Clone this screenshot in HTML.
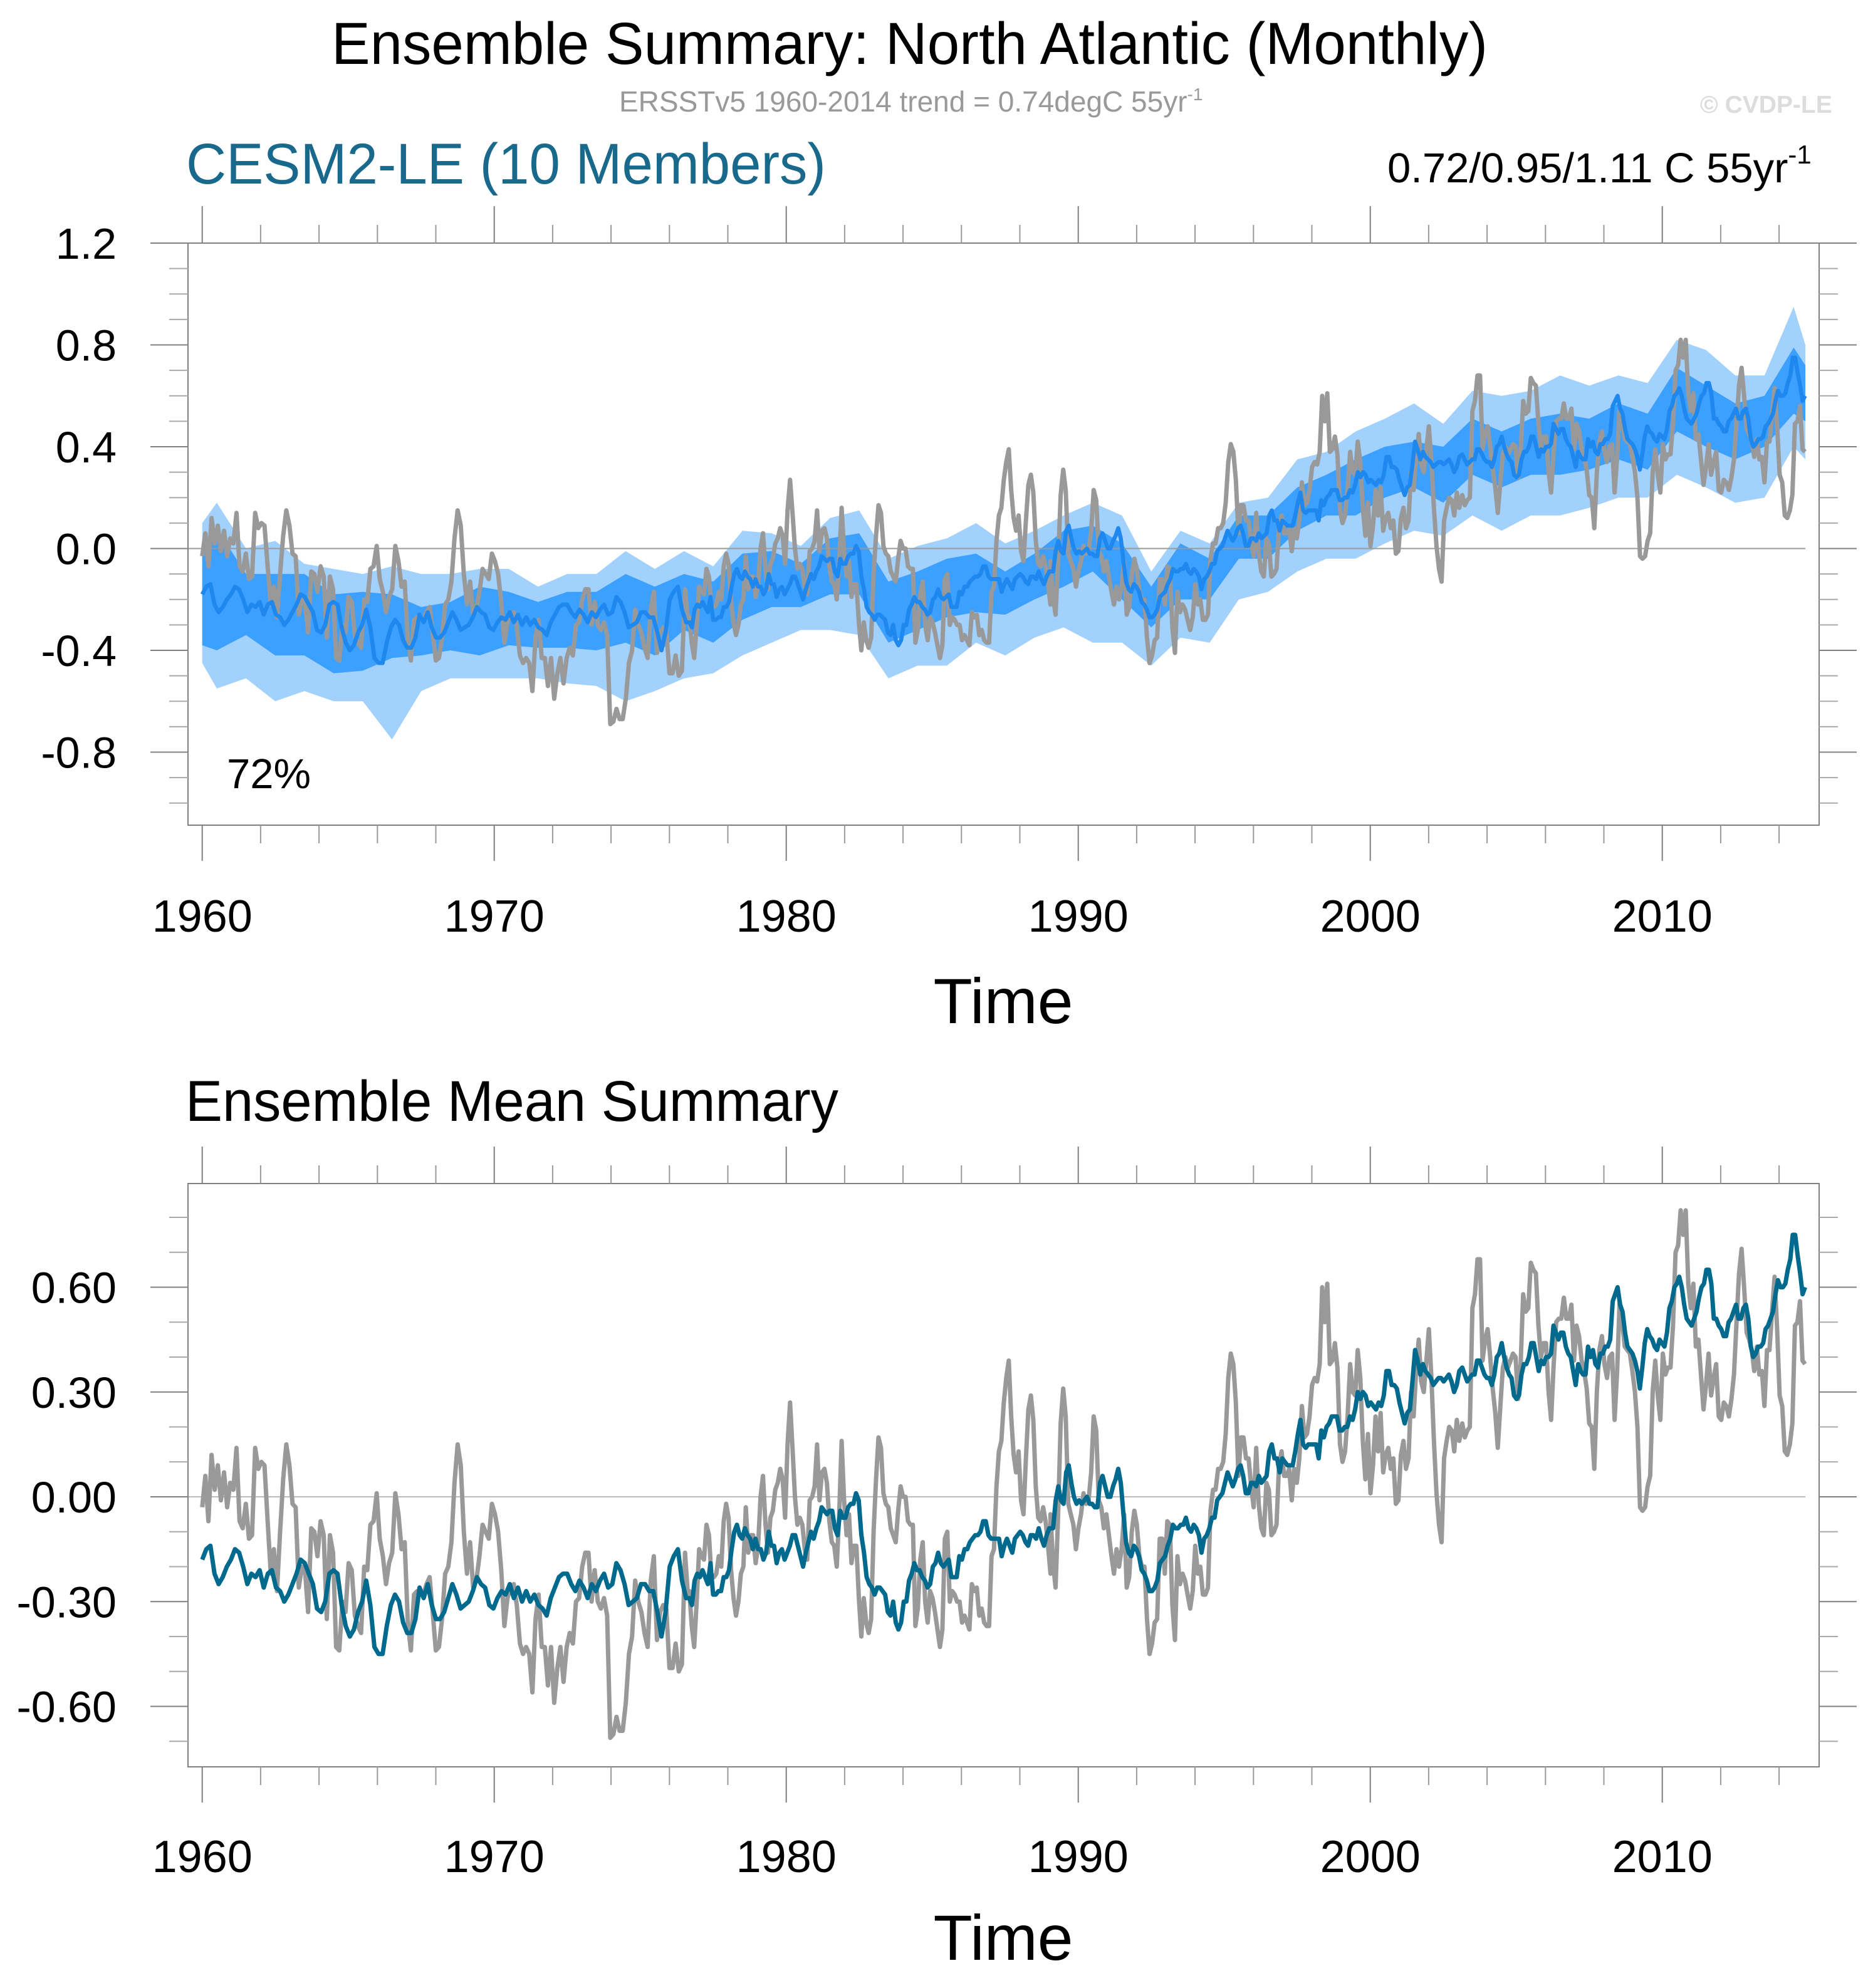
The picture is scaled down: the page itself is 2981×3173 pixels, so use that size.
<!DOCTYPE html>
<html><head><meta charset="utf-8"><title>Ensemble Summary: North Atlantic (Monthly)</title>
<style>html,body{margin:0;padding:0;background:#fff}svg{display:block}text{font-family:"Liberation Sans",Arial,sans-serif}</style>
</head><body>
<svg id="chart" xmlns="http://www.w3.org/2000/svg" width="2981" height="3173" viewBox="0 0 2981 3173">
<rect x="0" y="0" width="2981" height="3173" fill="#fff"/>
<text x="529" y="102" font-size="95" textLength="1845" lengthAdjust="spacingAndGlyphs">Ensemble Summary: North Atlantic (Monthly)</text>
<text x="988" y="178" font-size="46" fill="#999">ERSSTv5 1960-2014 trend = 0.74degC 55yr<tspan font-size="28" dy="-18">-1</tspan></text>
<text x="2713" y="180" font-size="39" font-weight="bold" fill="#dcdcdc">© CVDP-LE</text>
<text x="297" y="293" font-size="92" fill="#19698c" textLength="1021" lengthAdjust="spacingAndGlyphs">CESM2-LE (10 Members)</text>
<text x="2214" y="291" font-size="67">0.72/0.95/1.11 C 55yr<tspan font-size="42" dy="-30">-1</tspan></text>
<text x="296" y="1789" font-size="92" textLength="1042" lengthAdjust="spacingAndGlyphs">Ensemble Mean Summary</text>
<g id="top"></g>
<g id="bot"></g>
<text x="1601" y="1633" font-size="102" text-anchor="middle">Time</text>
<text x="1601" y="3128" font-size="102" text-anchor="middle">Time</text>
<text x="362" y="1258" font-size="67">72%</text>
</svg>
<script>
const xTickYears=[1960,1970,1980,1990,2000,2010];
const xMinorYears=[1962,1964,1966,1968,1972,1974,1976,1978,1982,1984,1986,1988,1992,1994,1996,1998,2002,2004,2006,2008,2012,2014];
const topYTicks=[1.2,0.8,0.4,0.0,-0.4,-0.8];
const topYTickLabels=["1.2","0.8","0.4","0.0","-0.4","-0.8"];
const topYMinor=[1.1,1.0,0.9,0.7,0.6,0.5,0.3,0.2,0.1,-0.1,-0.2,-0.3,-0.5,-0.6,-0.7,-0.9,-1.0];
const botYTicks=[0.6,0.3,0.0,-0.3,-0.6];
const botYTickLabels=["0.60","0.30","0.00","-0.30","-0.60"];
const botYMinor=[0.8,0.7,0.5,0.4,0.2,0.1,-0.1,-0.2,-0.4,-0.5,-0.7];
const obsSegYears=[[1960.0,1976.64],[1976.68,1989.05],[1989.05,2003.05],[2003.15,2014.89]];
const obsA=[-0.03,0.06,-0.07,0.12,0.02,0.09,-0.01,0.07,-0.03,0.04,0.02,0.14,-0.07,-0.09,-0.02,-0.12,-0.11,0.14,0.08,0.10,0.09,-0.07,-0.22,-0.15,-0.27,-0.10,0.05,0.15,0.09,-0.02,-0.03,-0.26,-0.20,-0.21,-0.33,-0.09,-0.10,-0.17,-0.07,-0.11,-0.35,-0.11,-0.16,-0.43,-0.44,-0.30,-0.33,-0.19,-0.21,-0.34,-0.37,-0.39,-0.20,-0.21,-0.08,-0.07,0.01,-0.12,-0.17,-0.25,-0.19,-0.16,0.01,-0.05,-0.15,-0.13,-0.36,-0.44,-0.28,-0.27,-0.28,-0.28,-0.25,-0.23,-0.33,-0.44,-0.43,-0.35,-0.22,-0.20,-0.13,0.04,0.15,0.09,-0.10,-0.22,-0.13,-0.26,-0.24,-0.17,-0.08,-0.10,-0.12,-0.02,-0.05,-0.10,-0.21,-0.37,-0.29,-0.26,-0.25,-0.31,-0.42,-0.45,-0.43,-0.45,-0.56,-0.35,-0.28,-0.43,-0.43,-0.54,-0.43,-0.59,-0.49,-0.43,-0.53,-0.43,-0.39,-0.42,-0.30,-0.29,-0.20,-0.16,-0.16,-0.30,-0.21,-0.30,-0.32,-0.29,-0.34,-0.69,-0.68,-0.63,-0.67,-0.67,-0.59,-0.45,-0.40,-0.24,-0.30,-0.33,-0.39,-0.43,-0.24,-0.17,-0.41,-0.33,-0.31,-0.32,-0.49,-0.49,-0.42,-0.50,-0.48,-0.16,-0.29];
const obsB=[-0.27,-0.37,-0.43,-0.30,-0.15,-0.17,-0.18,-0.08,-0.11,-0.23,-0.23,-0.22,-0.17,-0.20,-0.07,-0.02,-0.06,-0.21,-0.29,-0.34,-0.30,-0.22,-0.20,-0.03,-0.16,-0.11,-0.11,-0.19,-0.14,0.00,0.06,-0.08,-0.16,-0.06,-0.04,0.02,0.04,0.08,0.05,-0.06,0.15,0.27,0.14,0.00,-0.08,-0.06,-0.08,-0.15,-0.18,-0.01,0.00,0.03,0.15,-0.01,0.07,0.08,0.04,-0.07,-0.13,-0.14,-0.20,-0.05,0.16,-0.01,-0.11,-0.05,-0.19,-0.14,-0.14,-0.29,-0.40,-0.29,-0.36,-0.39,-0.35,-0.10,0.05,0.17,0.14,0.01,-0.02,-0.03,-0.09,-0.11,-0.13,-0.04,0.03,0.00,0.00,-0.07,-0.08,-0.08,-0.37,-0.32,-0.18,-0.13,-0.30,-0.36,-0.27,-0.29,-0.33,-0.38,-0.43,-0.38,-0.12,-0.10,-0.30,-0.27,-0.28,-0.30,-0.30,-0.36,-0.34,-0.36,-0.38,-0.25,-0.27,-0.26,-0.34,-0.32,-0.36,-0.37,-0.37,-0.17,-0.15,0.03,0.13,0.16,0.27,0.34,0.39,0.23,0.12,0.07,0.13,-0.01,-0.05,0.11,0.25,0.29,0.22,0.03,-0.06,-0.07,-0.03,-0.07,-0.14,-0.22];
const obsC=[-0.05,-0.19,-0.26,-0.05,0.21,0.31,0.23,-0.02,-0.05,-0.08,-0.15,-0.09,-0.05,0.01,-0.02,-0.01,0.07,0.23,0.19,-0.01,-0.03,-0.09,-0.05,-0.11,-0.17,-0.22,-0.15,-0.20,-0.15,-0.05,-0.26,-0.23,-0.10,-0.04,-0.08,-0.17,-0.20,-0.20,-0.35,-0.45,-0.42,-0.36,-0.35,-0.12,-0.12,-0.22,-0.07,-0.08,-0.31,-0.41,-0.17,-0.25,-0.22,-0.24,-0.28,-0.32,-0.27,-0.14,-0.22,-0.20,-0.28,-0.28,-0.26,-0.04,0.02,0.02,0.08,0.08,0.10,0.18,0.34,0.41,0.38,0.27,0.06,0.17,0.17,0.11,0.11,0.03,-0.03,0.14,-0.02,-0.09,-0.11,0.04,0.02,-0.11,-0.10,-0.08,0.09,0.13,0.06,0.06,0.08,-0.01,0.08,0.04,0.11,0.26,0.17,0.18,0.23,0.32,0.34,0.33,0.38,0.60,0.50,0.61,0.38,0.39,0.44,0.37,0.15,0.10,0.13,0.23,0.38,0.30,0.29,0.42,0.34,0.16,0.05,0.18,0.01,0.09,0.23,0.13,0.24,0.07,0.12,0.14,0.08,0.11,-0.02,-0.01,0.12,0.16,0.08,0.11,0.30,0.23,0.36,0.45,0.33,0.30,0.39,0.48,0.34,0.16,0.01,-0.08,-0.13,0.11,0.16,0.20,0.19,0.13,0.22,0.16];
const obsD=[0.21,0.17,0.19,0.20,0.54,0.58,0.68,0.68,0.39,0.45,0.48,0.40,0.31,0.24,0.14,0.26,0.37,0.40,0.37,0.39,0.41,0.40,0.28,0.38,0.58,0.53,0.54,0.67,0.65,0.64,0.49,0.40,0.44,0.44,0.30,0.22,0.38,0.50,0.51,0.51,0.57,0.51,0.51,0.55,0.39,0.49,0.46,0.39,0.36,0.31,0.21,0.20,0.08,0.30,0.42,0.46,0.38,0.34,0.40,0.41,0.22,0.36,0.56,0.50,0.43,0.42,0.41,0.36,0.30,0.20,-0.03,-0.04,-0.03,0.03,0.06,0.30,0.39,0.29,0.22,0.41,0.35,0.37,0.37,0.49,0.70,0.72,0.82,0.75,0.82,0.61,0.54,0.61,0.43,0.45,0.35,0.25,0.32,0.41,0.29,0.34,0.38,0.23,0.22,0.27,0.26,0.23,0.28,0.35,0.50,0.64,0.71,0.60,0.47,0.45,0.42,0.36,0.43,0.35,0.36,0.26,0.42,0.42,0.53,0.63,0.48,0.29,0.26,0.13,0.12,0.15,0.21,0.49,0.50,0.56,0.39,0.38];
const meanSegYears=[[1960.0,1976.57],[1976.68,1989.10],[1989.05,2003.05],[2003.15,2014.89]];
const meanA=[-0.18,-0.15,-0.14,-0.22,-0.25,-0.23,-0.20,-0.18,-0.15,-0.16,-0.20,-0.25,-0.22,-0.23,-0.21,-0.26,-0.22,-0.21,-0.26,-0.27,-0.30,-0.28,-0.25,-0.22,-0.18,-0.19,-0.22,-0.25,-0.32,-0.33,-0.30,-0.22,-0.21,-0.22,-0.31,-0.37,-0.40,-0.38,-0.33,-0.30,-0.24,-0.31,-0.43,-0.45,-0.45,-0.37,-0.31,-0.28,-0.30,-0.36,-0.39,-0.39,-0.35,-0.26,-0.29,-0.25,-0.31,-0.35,-0.35,-0.33,-0.29,-0.25,-0.28,-0.32,-0.31,-0.30,-0.27,-0.23,-0.25,-0.26,-0.31,-0.32,-0.29,-0.27,-0.28,-0.25,-0.29,-0.26,-0.30,-0.27,-0.30,-0.28,-0.31,-0.32,-0.34,-0.29,-0.26,-0.23,-0.22,-0.22,-0.25,-0.27,-0.24,-0.26,-0.29,-0.25,-0.27,-0.24,-0.22,-0.26,-0.25,-0.19,-0.21,-0.25,-0.31,-0.30,-0.29,-0.25,-0.25,-0.27,-0.27,-0.33,-0.40,-0.33,-0.20,-0.17,-0.15,-0.24,-0.29];
const meanB=[-0.29,-0.31,-0.24,-0.22,-0.23,-0.21,-0.23,-0.25,-0.19,-0.28,-0.28,-0.27,-0.27,-0.23,-0.23,-0.21,-0.15,-0.10,-0.08,-0.11,-0.12,-0.09,-0.11,-0.12,-0.15,-0.12,-0.15,-0.15,-0.18,-0.16,-0.10,-0.14,-0.14,-0.19,-0.16,-0.15,-0.18,-0.16,-0.14,-0.11,-0.11,-0.14,-0.17,-0.20,-0.16,-0.13,-0.10,-0.12,-0.09,-0.07,-0.03,-0.04,-0.05,-0.04,-0.04,-0.09,-0.11,-0.04,-0.06,-0.06,-0.03,-0.02,-0.02,0.01,-0.01,-0.11,-0.16,-0.23,-0.25,-0.26,-0.28,-0.26,-0.26,-0.27,-0.28,-0.33,-0.34,-0.30,-0.36,-0.38,-0.36,-0.30,-0.30,-0.24,-0.22,-0.19,-0.21,-0.21,-0.23,-0.24,-0.26,-0.25,-0.20,-0.19,-0.16,-0.19,-0.20,-0.19,-0.18,-0.23,-0.23,-0.23,-0.17,-0.18,-0.15,-0.15,-0.13,-0.12,-0.11,-0.11,-0.10,-0.07,-0.07,-0.11,-0.12,-0.12,-0.12,-0.12,-0.17,-0.14,-0.12,-0.14,-0.16,-0.12,-0.11,-0.10,-0.11,-0.13,-0.14,-0.11,-0.11,-0.12,-0.09,-0.12,-0.14,-0.11,-0.09,-0.09];
const meanC=[-0.09,-0.09,-0.01,0.03,-0.01,-0.02,0.07,0.09,0.04,0.00,-0.02,-0.01,-0.02,-0.01,0.00,-0.02,-0.02,-0.03,-0.03,0.04,0.06,0.03,0.00,0.00,0.03,0.05,0.08,0.04,-0.05,-0.13,-0.16,-0.17,-0.14,-0.15,-0.17,-0.21,-0.22,-0.24,-0.27,-0.27,-0.26,-0.24,-0.19,-0.18,-0.17,-0.14,-0.12,-0.08,-0.09,-0.09,-0.08,-0.08,-0.06,-0.09,-0.10,-0.08,-0.09,-0.11,-0.16,-0.12,-0.11,-0.09,-0.06,-0.06,-0.01,0.00,0.01,0.04,0.07,0.05,0.03,0.05,0.08,0.09,0.06,0.01,0.01,0.04,0.04,0.03,0.06,0.04,0.05,0.06,0.13,0.15,0.11,0.11,0.07,0.11,0.10,0.09,0.09,0.09,0.13,0.18,0.22,0.15,0.14,0.15,0.15,0.15,0.15,0.11,0.19,0.17,0.20,0.21,0.23,0.23,0.23,0.19,0.19,0.20,0.20,0.23,0.22,0.25,0.30,0.28,0.30,0.29,0.26,0.27,0.26,0.25,0.27,0.26,0.29,0.36,0.36,0.32,0.32,0.31,0.27,0.24,0.21,0.24,0.25,0.33,0.42,0.39,0.35,0.38,0.36,0.35,0.34,0.32,0.33,0.34,0.34,0.33,0.34,0.35,0.33,0.30,0.32,0.36];
const meanD=[0.37,0.35,0.33,0.34,0.35,0.35,0.39,0.39,0.37,0.35,0.34,0.34,0.32,0.35,0.40,0.41,0.44,0.40,0.37,0.35,0.34,0.29,0.28,0.29,0.35,0.38,0.38,0.40,0.44,0.44,0.40,0.36,0.39,0.38,0.40,0.40,0.41,0.49,0.47,0.45,0.47,0.47,0.43,0.41,0.40,0.36,0.32,0.38,0.36,0.35,0.35,0.43,0.40,0.42,0.38,0.37,0.41,0.41,0.43,0.43,0.45,0.56,0.58,0.60,0.55,0.53,0.47,0.43,0.42,0.41,0.39,0.36,0.31,0.37,0.44,0.48,0.46,0.45,0.43,0.42,0.45,0.44,0.43,0.47,0.54,0.56,0.60,0.61,0.63,0.60,0.55,0.51,0.50,0.49,0.51,0.53,0.57,0.60,0.61,0.65,0.65,0.61,0.51,0.51,0.49,0.48,0.46,0.46,0.50,0.51,0.53,0.55,0.51,0.51,0.54,0.55,0.51,0.43,0.40,0.41,0.43,0.43,0.44,0.48,0.49,0.51,0.53,0.58,0.62,0.60,0.60,0.61,0.65,0.68,0.75,0.75,0.69,0.64,0.58,0.60];
const bandYears=[1960.0,1960.5,1961.5,1962.5,1963.5,1964.5,1965.5,1966.5,1967.5,1968.5,1969.5,1970.5,1971.5,1972.5,1973.5,1974.5,1975.5,1976.5,1977.5,1978.5,1979.5,1980.5,1981.5,1982.5,1983.5,1984.5,1985.5,1986.5,1987.5,1988.5,1989.5,1990.5,1991.5,1992.5,1993.5,1994.5,1995.5,1996.5,1997.5,1998.5,1999.5,2000.5,2001.5,2002.5,2003.5,2004.5,2005.5,2006.5,2007.5,2008.5,2009.5,2010.5,2011.5,2012.5,2013.5,2014.5,2014.9];
const lightHi=[0.10,0.18,0.00,0.03,-0.06,-0.08,-0.10,-0.07,-0.10,-0.10,-0.08,-0.08,-0.15,-0.10,-0.10,-0.01,-0.08,-0.01,-0.07,0.07,0.06,0.01,0.12,0.15,-0.04,0.01,0.04,0.10,0.02,0.07,0.13,0.18,0.13,-0.09,0.07,0.02,0.18,0.20,0.35,0.38,0.46,0.51,0.57,0.49,0.62,0.60,0.62,0.68,0.64,0.68,0.65,0.82,0.78,0.68,0.68,0.95,0.80];
const darkHi=[0.00,0.08,-0.10,-0.10,-0.10,-0.18,-0.17,-0.18,-0.23,-0.21,-0.15,-0.17,-0.21,-0.17,-0.17,-0.10,-0.15,-0.10,-0.13,-0.02,-0.01,-0.06,0.04,0.06,-0.13,-0.09,-0.04,-0.02,-0.09,-0.02,0.07,0.09,0.02,-0.15,0.02,-0.04,0.13,0.13,0.24,0.29,0.35,0.40,0.42,0.40,0.51,0.46,0.51,0.53,0.51,0.57,0.53,0.71,0.64,0.57,0.60,0.79,0.72];
const darkLo=[-0.38,-0.40,-0.34,-0.42,-0.42,-0.49,-0.48,-0.43,-0.42,-0.40,-0.42,-0.38,-0.39,-0.39,-0.40,-0.37,-0.42,-0.32,-0.37,-0.28,-0.23,-0.23,-0.18,-0.18,-0.37,-0.32,-0.27,-0.25,-0.26,-0.20,-0.15,-0.09,-0.20,-0.31,-0.20,-0.20,-0.04,-0.04,0.07,0.13,0.13,0.20,0.24,0.18,0.29,0.24,0.29,0.29,0.31,0.35,0.31,0.46,0.40,0.35,0.40,0.53,0.50];
const lightLo=[-0.45,-0.55,-0.51,-0.60,-0.56,-0.60,-0.60,-0.75,-0.56,-0.51,-0.51,-0.51,-0.51,-0.53,-0.54,-0.60,-0.56,-0.51,-0.49,-0.42,-0.37,-0.32,-0.32,-0.34,-0.51,-0.46,-0.46,-0.37,-0.42,-0.35,-0.31,-0.37,-0.37,-0.46,-0.35,-0.37,-0.20,-0.17,-0.09,-0.04,-0.04,0.02,0.07,0.05,0.13,0.07,0.13,0.13,0.16,0.20,0.20,0.29,0.24,0.18,0.20,0.40,0.35];

const NS='http://www.w3.org/2000/svg';
const FL=300,FR=2903;
const xS=yr=>322.7+(yr-1960)*46.6;
const P={top:{g:document.getElementById('top'),t:388,b:1317,z:875.5,k:406.25,lab:1487},
         bot:{g:document.getElementById('bot'),t:1889,b:2820,z:2389,k:557.5,lab:2988}};
const yS=(p,v)=>p.z-v*p.k;
function mk(tag,parent,attrs){const e=document.createElementNS(NS,tag);for(const k in attrs)e.setAttribute(k,attrs[k]);parent.appendChild(e);return e;}
function series(segYears,segs){const pts=[];segs.forEach((s,i)=>{const a=segYears[i][0],b=segYears[i][1];s.forEach((v,j)=>pts.push([a+(b-a)*j/(s.length-1),v]));});return pts;}
const obsPts=series(obsSegYears,[obsA,obsB,obsC,obsD]);
const meanPts=series(meanSegYears,[meanA,meanB,meanC,meanD]);
function pathD(p,pts){return pts.map((q,i)=>(i?'L':'M')+xS(q[0]).toFixed(1)+','+yS(p,q[1]).toFixed(1)).join('');}
function bandD(p,hi,lo){let d='';bandYears.forEach((yr,i)=>{d+=(i?'L':'M')+xS(yr).toFixed(1)+','+yS(p,hi[i]).toFixed(1);});for(let i=bandYears.length-1;i>=0;i--)d+='L'+xS(bandYears[i]).toFixed(1)+','+yS(p,lo[i]).toFixed(1);return d+'Z';}

function axes(p,yt,ytl,ym){
  const g=p.g;
  const fr=mk('rect',g,{x:FL,y:p.t,width:FR-FL,height:p.b-p.t,fill:'none',stroke:'#808080','stroke-width':2});
  
  
  xTickYears.forEach(yr=>{
    const x=xS(yr);
    const t1=mk('line',g,{x1:x,x2:x,y1:p.b,y2:p.b+57,stroke:'#808080','stroke-width':2});
    
    
    const t2=mk('line',g,{x1:x,x2:x,y1:p.t,y2:p.t-59,stroke:'#808080','stroke-width':2});
    
    
    const l=mk('text',g,{x:x,y:p.lab,'font-size':72,'text-anchor':'middle'});
    l.textContent=String(yr);
    
    
  });
  xMinorYears.forEach(yr=>{
    const x=xS(yr);
    const t1=mk('line',g,{x1:x,x2:x,y1:p.b,y2:p.b+29,stroke:'#999','stroke-width':2});
    
    
    const t2=mk('line',g,{x1:x,x2:x,y1:p.t,y2:p.t-29,stroke:'#999','stroke-width':2});
    
    
  });
  yt.forEach((v,i)=>{
    const y=yS(p,v);
    const a=mk('line',g,{x1:240,x2:FL,y1:y,y2:y,stroke:'#808080','stroke-width':2});
    
    
    const b=mk('line',g,{x1:FR,x2:2963,y1:y,y2:y,stroke:'#808080','stroke-width':2});
    
    
    const l=mk('text',g,{x:186,y:y+25,'font-size':70,'text-anchor':'end'});
    l.textContent=ytl[i];
    
    
  });
  ym.forEach(v=>{
    const y=yS(p,v);
    const a=mk('line',g,{x1:270,x2:FL,y1:y,y2:y,stroke:'#aaa','stroke-width':2});
    
    
    const b=mk('line',g,{x1:FR,x2:2933,y1:y,y2:y,stroke:'#aaa','stroke-width':2});
    
    
  });
}

// top panel
const T=P.top;
const lb=mk('path',T.g,{d:bandD(T,lightHi,lightLo),fill:'#a3d1fe'});


const db=mk('path',T.g,{d:bandD(T,darkHi,darkLo),fill:'#3ba0ff'});


const z1=mk('line',T.g,{x1:FL,x2:xS(2014.9),y1:yS(T,0),y2:yS(T,0),stroke:'#999','stroke-width':2});


const o1=mk('path',T.g,{d:pathD(T,obsPts),fill:'none',stroke:'#999','stroke-width':7,'stroke-linejoin':'round'});


const m1=mk('path',T.g,{d:pathD(T,meanPts),fill:'none',stroke:'#1e88ee','stroke-width':6.5,'stroke-linejoin':'round'});


axes(T,topYTicks,topYTickLabels,topYMinor);

// bottom panel
const B=P.bot;
const z2=mk('line',B.g,{x1:FL,x2:xS(2014.9),y1:yS(B,0),y2:yS(B,0),stroke:'#bbb','stroke-width':2});


const o2=mk('path',B.g,{d:pathD(B,obsPts),fill:'none',stroke:'#999','stroke-width':7,'stroke-linejoin':'round'});


const m2=mk('path',B.g,{d:pathD(B,meanPts),fill:'none',stroke:'#006a8e','stroke-width':7,'stroke-linejoin':'round'});


axes(B,botYTicks,botYTickLabels,botYMinor);
</script>
</body></html>
